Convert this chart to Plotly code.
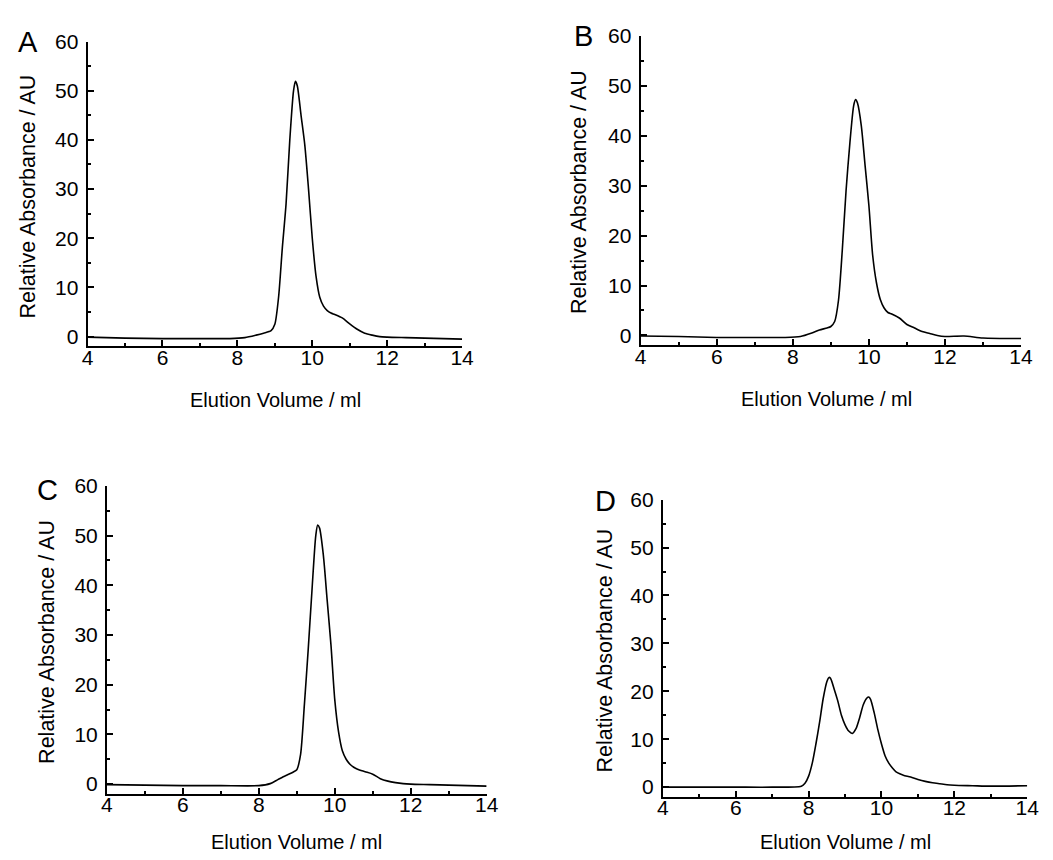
import plotly.graph_objects as go

W, H = 1053, 860

# ---------------- data ----------------
x_a = [4, 5, 6, 7, 7.8, 8.2, 8.5, 8.7, 8.9, 9.0, 9.1, 9.2, 9.3, 9.4, 9.5, 9.55, 9.6, 9.7, 9.8, 9.9,
       10.0, 10.1, 10.2, 10.3, 10.4, 10.5, 10.6, 10.8, 11.0, 11.2, 11.4, 11.6, 11.8, 12.0, 12.5, 13, 14]
y_a = [-0.1, -0.3, -0.4, -0.4, -0.4, -0.2, 0.3, 0.7, 1.2, 2.5, 8, 18, 27, 40, 50, 51.9, 51, 45, 39, 30,
       20, 12.3, 8, 6.2, 5.3, 4.8, 4.5, 3.8, 2.6, 1.5, 0.7, 0.3, 0.0, -0.1, -0.2, -0.3, -0.5]

x_b = [4, 5, 6, 7, 7.8, 8.2, 8.5, 8.7, 8.9, 9.0, 9.1, 9.2, 9.3, 9.4, 9.5, 9.6, 9.65, 9.7, 9.8, 9.9,
       10.0, 10.1, 10.2, 10.3, 10.4, 10.5, 10.6, 10.8, 11.0, 11.2, 11.4, 11.6, 11.8, 12.0, 12.5, 13, 14]
y_b = [-0.1, -0.2, -0.4, -0.4, -0.4, -0.2, 0.5, 1.1, 1.5, 1.8, 2.8, 7, 17, 29, 38.5, 46, 47.2, 46.5, 42, 34,
       26, 16, 10.5, 7.2, 5.5, 4.6, 4.3, 3.5, 2.2, 1.5, 0.8, 0.4, 0.0, -0.2, -0.1, -0.5, -0.6]

x_c = [4, 5, 6, 7, 8, 8.3, 8.5, 8.7, 8.9, 9.0, 9.1, 9.2, 9.3, 9.4, 9.5, 9.55, 9.6, 9.7, 9.8, 9.9,
       10.0, 10.1, 10.2, 10.3, 10.4, 10.5, 10.6, 10.8, 11.0, 11.2, 11.4, 11.6, 11.8, 12.0, 12.5, 13, 14]
y_c = [-0.1, -0.2, -0.3, -0.3, -0.3, 0.1, 0.9, 1.7, 2.4, 2.9, 6, 16, 27, 39, 50, 52.1, 51.5, 46, 37, 28,
       17, 10.5, 6.7, 5.0, 4.0, 3.4, 3.0, 2.5, 2.0, 1.1, 0.6, 0.3, 0.1, 0.0, -0.1, -0.2, -0.4]

x_d = [4, 5, 6, 7, 7.8, 7.9, 8.0, 8.1, 8.2, 8.3, 8.4, 8.5, 8.56, 8.6, 8.7, 8.8, 8.9, 9.0, 9.1, 9.2,
       9.3, 9.4, 9.5, 9.6, 9.65, 9.7, 9.8, 9.9, 10.0, 10.1, 10.2, 10.3, 10.4, 10.5, 10.6, 10.8, 11.0,
       11.2, 11.4, 11.6, 11.8, 12.0, 12.5, 13, 14]
y_d = [0.0, 0.0, 0.0, 0.0, 0.2, 0.8, 2.3, 5, 9, 13.5, 18.5, 22, 22.9, 22.7, 20.5, 18, 15, 13, 11.7, 11.2,
       12.2, 14.5, 17.2, 18.6, 18.8, 18.3, 15.5, 12, 9, 6.5, 5.0, 4.0, 3.2, 2.8, 2.5, 2.1, 1.6,
       1.2, 0.9, 0.7, 0.5, 0.4, 0.3, 0.2, 0.3]

panel_labels = ["A", "B", "C", "D"]
x_title = "Elution Volume / ml"
y_title = "Relative Absorbance / AU"
x_ticks = [4, 6, 8, 10, 12, 14]
y_ticks = [0, 10, 20, 30, 40, 50, 60]

# ---------------- layout geometry (pixels) ----------------
# (left, right, top, bottom) of each plot area
boxes = [
    (83, 464, 30, 340),
    (645.7, 1032.7, 24, 339),
    (102.7, 489, 481.7, 795),
    (668.3, 1039, 495.7, 797.7),
]
letter_pos = [(22.5, 30.5), (587.5, 24), (42.5, 486), (610, 497.5)]
xtitle_pos = [(274, 394), (835, 393), (296, 844), (854, 844)]
ytitle_pos = [(22.5, 187.5), (582.5, 183.5), (41, 640), (609, 649.5)]

FONT = "Liberation Sans, Arial, sans-serif"
data = [(x_a, y_a), (x_b, y_b), (x_c, y_c), (x_d, y_d)]

fig = go.Figure()
layout = dict(
    width=W, height=H,
    margin=dict(l=0, r=0, t=0, b=0),
    paper_bgcolor="white", plot_bgcolor="white",
    showlegend=False,
    font=dict(family=FONT, color="black"),
)
annotations = []
for i, ((xs, ys), (l, r, t, b)) in enumerate(zip(data, boxes)):
    n = "" if i == 0 else str(i + 1)
    fig.add_trace(go.Scatter(x=xs, y=ys, mode="lines",
                             line=dict(color="black", width=1.6, shape="spline", smoothing=0.7),
                             xaxis="x" + n, yaxis="y" + n, hoverinfo="skip"))
    layout["xaxis" + n] = dict(
        domain=[l / W, r / W], anchor="y" + n, range=[4, 14],
        tickvals=x_ticks, ticks="inside", ticklen=6, tickwidth=1.5, tickcolor="black",
        minor=dict(dtick=1, tick0=4, ticks="inside", ticklen=3, tickwidth=1.5, tickcolor="black"),
        showline=True, linecolor="black", linewidth=2, mirror=False,
        showgrid=False, zeroline=False, ticklabelstandoff=-9,
        tickfont=dict(size=21, family=FONT, color="black"),
    )
    layout["yaxis" + n] = dict(
        domain=[1 - b / H, 1 - t / H], anchor="x" + n, range=[-2, 60],
        tickvals=y_ticks, ticks="inside", ticklen=6, tickwidth=1.5, tickcolor="black",
        minor=dict(dtick=5, tick0=0, ticks="inside", ticklen=3, tickwidth=1.5, tickcolor="black"),
        showline=True, linecolor="black", linewidth=2, mirror=False,
        showgrid=False, zeroline=False, ticklabelstandoff=3,
        tickfont=dict(size=21, family=FONT, color="black"),
    )
    lx, ly = letter_pos[i]
    annotations.append(dict(text=panel_labels[i], x=lx / W, y=1 - ly / H, xref="paper", yref="paper",
                            xanchor="center", yanchor="middle", showarrow=False,
                            font=dict(size=29, family=FONT, color="black")))
    tx, ty = xtitle_pos[i]
    annotations.append(dict(text=x_title, x=tx / W, y=1 - ty / H, xref="paper", yref="paper",
                            xanchor="center", yanchor="middle", showarrow=False,
                            font=dict(size=20, family=FONT, color="black")))
    yx, yy = ytitle_pos[i]
    annotations.append(dict(text=y_title, x=yx / W, y=1 - yy / H, xref="paper", yref="paper",
                            xanchor="center", yanchor="middle", showarrow=False, textangle=-90,
                            font=dict(size=21.5, family=FONT, color="black")))
layout["annotations"] = annotations
fig.update_layout(**layout)
fig.write_html("out.html")
